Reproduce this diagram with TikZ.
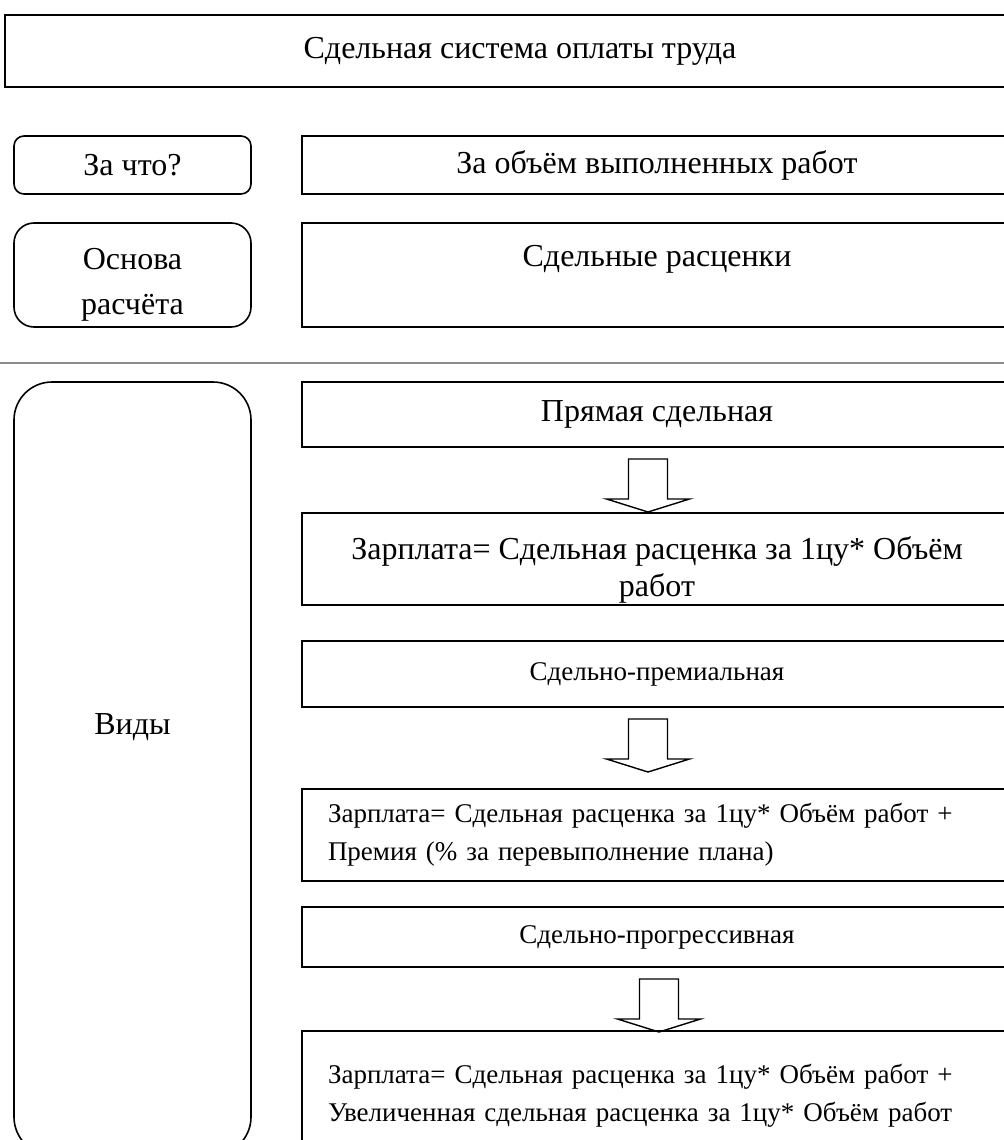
\documentclass[tikz,border=0pt]{standalone}
\usepackage{fontspec}
\setmainfont{Liberation Serif}

\tikzset{
  bigtext/.style={font=\fontsize{16}{18.5}\selectfont},
  smalltext/.style={font=\fontsize{13.5}{19}\selectfont},
  box/.style={draw, line width=1pt, minimum width=355pt, inner sep=0pt, align=center, bigtext},
  side/.style={draw, line width=0.8pt, minimum width=118.5pt, inner sep=0pt, align=center, bigtext},
  formula/.style={box, text width=329pt, inner xsep=13pt, align=left, smalltext},
  hollow/.style={draw, line width=0.7pt}
}
% полая стрелка вниз под узлом #1, сдвиг по x #2
\newcommand{\hollowdown}[2]{%
  \draw[hollow] ([xshift=#2]#1.south) ++(-19.5,11) -- ++(0,40) -- ++(-22,0)
    -- ++(41.5,13) -- ++(41.5,-13) -- ++(-22,0) -- ++(0,-40) -- cycle;}

\begin{document}
\begin{tikzpicture}[x=0.5pt, y=-0.5pt]
  \useasboundingbox (0,0) rectangle (1004,1140);
  \clip (0,0) rectangle (1004,1140);

  % Заголовок
  \node[box, minimum width=515pt, minimum height=36pt] (title) at (520,51) {Сдельная система оплаты труда};

  % За что? и основа расчёта
  \node[side, rounded corners=5pt, minimum height=29pt] (zachto) at (132.5,165) {За что?};
  \node[box, minimum height=29pt] (obem) at (657,165) {За объём выполненных работ};
  \node[side, rounded corners=10pt, minimum height=52pt, text height=42pt, text depth=3pt] (osnova) at (132.5,275) {Основа\\[4pt]расчёта};
  \node[box, minimum height=52pt, text height=10pt, text depth=19pt] (rasc) at (657,275) {Сдельные расценки};

  % Разделитель
  \draw[gray!90, line width=1pt] (0,363) -- (1004,363);

  % Виды
  \node[side, rounded corners=19pt, minimum height=386.5pt, text height=10pt, text depth=44.5pt] (vidy) at (132.5,768.5) {Виды};

  \node[box, minimum height=32.5pt] (pryam) at (657,414.5) {Прямая сдельная};
  \node[box, minimum height=46pt, text height=40pt, text depth=3pt] (z1) at (657,559) {Зарплата= Сдельная расценка за 1цу* Объём\\работ};

  \node[box, smalltext, minimum height=33pt] (prem) at (657,674) {Сдельно-премиальная};
  \node[formula, minimum height=46pt] (z2) at (657,835) {Зарплата= Сдельная расценка за 1цу* Объём работ +\\Премия (\% за перевыполнение плана)};

  \node[box, smalltext, minimum height=30pt] (progr) at (657,937) {Сдельно-прогрессивная};
  \node[formula, minimum height=64.5pt] (z3) at (657,1095.5) {Зарплата= Сдельная расценка за 1цу* Объём работ +\\Увеличенная сдельная расценка за 1цу* Объём работ};

  % Стрелки
  \hollowdown{pryam}{-4.5pt}
  \hollowdown{prem}{-4.5pt}
  \hollowdown{progr}{1pt}
\end{tikzpicture}
\end{document}
